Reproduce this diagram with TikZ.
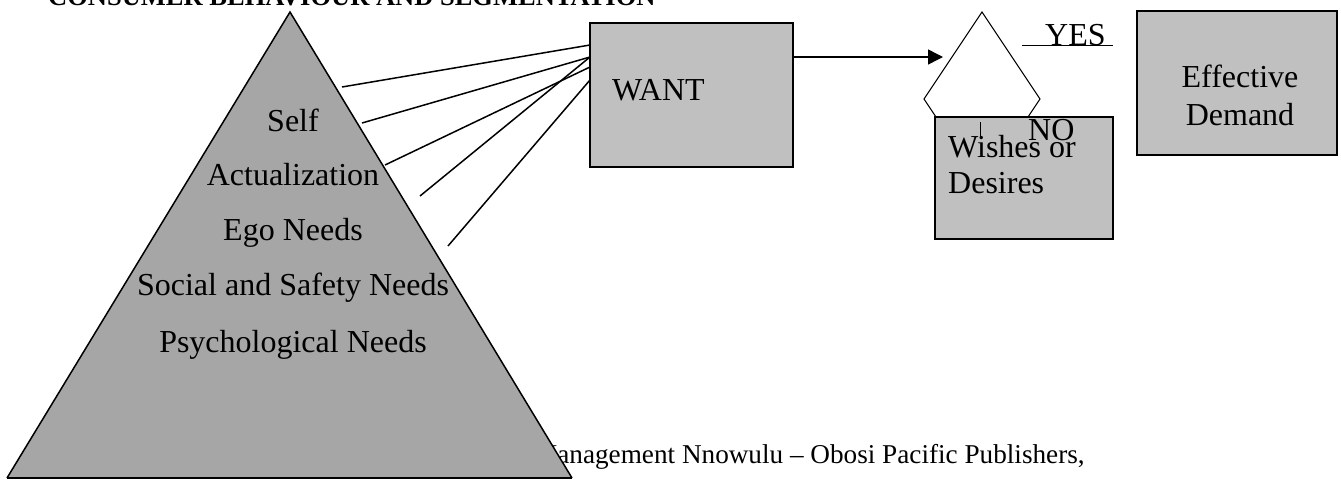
\documentclass[tikz,border=0pt]{standalone}
\usepackage{fontspec}
\setmainfont{Liberation Serif}
\usetikzlibrary{arrows.meta}
\definecolor{trigray}{RGB}{166,166,166}
\definecolor{boxgray}{RGB}{192,192,192}
\tikzset{
  boxnode/.style={draw=black, line width=1.5pt, fill=boxgray, inner sep=0pt},
  lbl/.style={font=\fontsize{32}{38}\selectfont, inner sep=0pt},
  thinline/.style={line width=1.5pt},
  hairline/.style={line width=1pt},
}
\begin{document}
\begin{tikzpicture}[x=1pt,y=-1pt]
\useasboundingbox (0,0) rectangle (1341,480);
% title
\node[font=\fontsize{26.5}{30}\selectfont\bfseries, inner sep=0pt, anchor=base west] (title) at (48,5) {CONSUMER BEHAVIOUR AND SEGMENTATION};
% bottom text (partly under the pyramid)
\node[font=\fontsize{27.2}{31}\selectfont, inner sep=0pt, anchor=base west] (ref) at (533,463) {Management Nnowulu -- Obosi Pacific Publishers,};
% pyramid
\coordinate (apex) at (290,12);
\coordinate (bl) at (7,478);
\coordinate (br) at (572,478);
\fill[trigray] (apex) -- (bl) -- (br) -- cycle;
\draw[thinline, line join=miter] (bl) -- (apex) -- (br);
\draw[line width=2.5pt] (bl) -- (br);
\node[lbl, anchor=base] (self) at (293,131) {Self};
\node[lbl, anchor=base] (act) at (293,185) {Actualization};
\node[lbl, anchor=base] (ego) at (293,240) {Ego Needs};
\node[lbl, anchor=base] (soc) at (293,295) {Social and Safety Needs};
\node[lbl, anchor=base] (psy) at (293,352) {Psychological Needs};
% WANT box
\node[boxnode, minimum width=203pt, minimum height=144pt] (want) at (691.5,95) {};
\node[lbl, anchor=base west] (wanttxt) at (612,100) {WANT};
% connectors pyramid -> want
\coordinate (p1) at (342,87);
\coordinate (p2) at (362,123);
\coordinate (p3) at (385,165);
\coordinate (p4) at (420,196);
\coordinate (p5) at (448,246);
\coordinate (w1) at (590,45);
\coordinate (w2) at (590,57);
\coordinate (w3) at (590,67);
\coordinate (w5) at (590,80);
\draw[thinline] (p1) -- (w1);
\draw[thinline] (p2) -- (w2);
\draw[thinline] (p3) -- (w3);
\draw[thinline] (p4) -- (w2);
\draw[thinline] (p5) -- (w5);
% decision shape
\coordinate (dtop) at (982,12);
\coordinate (dleft) at (924,99);
\coordinate (dright) at (1040,99);
\coordinate (dbot) at (982,186);
\draw[hairline, fill=white] (dtop) -- (dleft) -- (dbot) -- (dright) -- cycle;
\coordinate (dtip) at (943,57);
\draw[thinline, -{Triangle[length=15pt,width=15pt]}] (want.east |- dtip) -- (dtip);
% YES
\coordinate (y1) at (1022,45);
\coordinate (y2) at (1113,45);
\draw[hairline] (y1) -- (y2);
\node[lbl, anchor=base west] (yes) at (1045,45) {YES};
% Wishes box
\node[boxnode, minimum width=178pt, minimum height=122pt] (wish) at (1024,178) {};
\node[lbl, anchor=base west] (wish1) at (948,157) {Wishes or};
\node[lbl, anchor=base west] (wish2) at (948,193) {Desires};
\coordinate (t1) at (980,122);
\coordinate (t2) at (980,137);
\draw[hairline] (t1) -- (t2);
\node[lbl, anchor=base west] (no) at (1028,140) {NO};
% Effective demand box
\node[boxnode, minimum width=200pt, minimum height=144pt] (eff) at (1237,83) {};
\node[lbl, anchor=base] (eff1) at (1240,87) {Effective};
\node[lbl, anchor=base] (eff2) at (1240,125) {Demand};
\end{tikzpicture}
\end{document}
